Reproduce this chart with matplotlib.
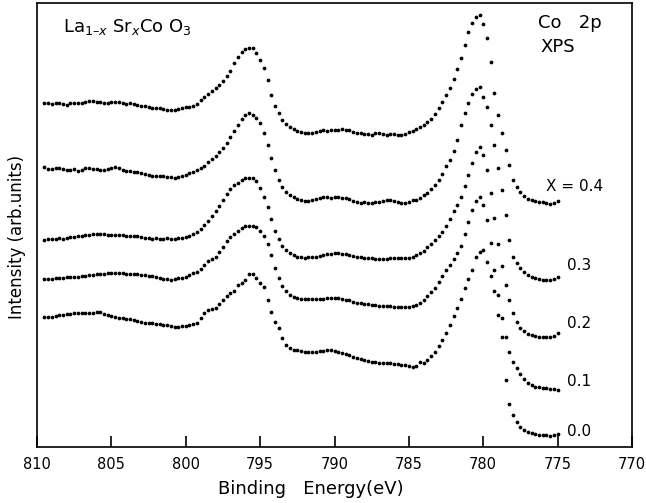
import matplotlib
matplotlib.use("Agg")
import matplotlib.pyplot as plt
import numpy as np

# binding energy grid (eV), high -> low, 0.25 eV step
energy = np.arange(809.5, 774.9, -0.25)

# Co 2p intensity (arb. units), same order as energy
x04 = [344, 344, 343, 344, 344, 343,
       342, 344, 344, 344, 344, 345, 346, 346,
       345, 345, 344, 344, 345, 345, 345, 344,
       343, 344, 343, 342, 341, 341, 340, 339,
       339, 339, 338, 337, 337, 337, 338, 339,
       340, 340, 341, 343, 347, 350, 353, 356,
       359, 362, 366, 371, 376, 384, 390, 395,
       398, 399, 399, 394, 387, 379, 367, 352,
       341, 334, 327, 323, 320, 318, 316, 315,
       314, 314, 314, 315, 316, 317, 316, 317,
       317, 317, 318, 317, 317, 315, 314, 314,
       313, 313, 312, 314, 314, 313, 312, 313,
       313, 312, 312, 313, 315, 316, 318, 320,
       322, 325, 328, 333, 339, 345, 352, 359,
       368, 378, 389, 402, 415, 424, 430, 432,
       423, 409, 385, 354, 332, 314, 297, 282,
       267, 260, 255, 251, 248, 247, 246, 245,
       245, 244, 243, 244, 246]

x03 = [280, 278, 278, 279, 279, 278,
       277, 277, 278, 276, 277, 279, 279, 278,
       278, 277, 277, 278, 279, 280, 279, 277,
       276, 276, 275, 275, 274, 273, 272, 271,
       271, 271, 271, 270, 270, 269, 270, 271,
       272, 274, 275, 277, 279, 281, 285, 288,
       291, 295, 299, 304, 310, 316, 322, 328,
       332, 334, 332, 329, 324, 314, 302, 289,
       277, 267, 260, 255, 252, 250, 248, 247,
       246, 246, 247, 248, 249, 250, 250, 249,
       250, 250, 249, 249, 248, 246, 245, 244,
       245, 244, 244, 245, 245, 246, 247, 247,
       246, 245, 244, 244, 245, 247, 247, 249,
       252, 254, 258, 262, 267, 273, 281, 287,
       296, 307, 322, 334, 344, 353, 358, 360,
       350, 340, 322, 302, 279, 257, 232, 207,
       190, 184, 179, 175, 172, 170, 169, 168,
       167, 167, 167, 168, 170]

x02 = [207, 208, 208, 208, 209, 208,
       209, 210, 210, 211, 211, 212, 212, 213,
       213, 213, 213, 212, 212, 212, 212, 212,
       211, 211, 211, 211, 210, 209, 209, 208,
       209, 208, 208, 209, 208, 208, 209, 209,
       210, 211, 213, 215, 218, 222, 226, 231,
       236, 241, 247, 253, 258, 262, 264, 267,
       269, 269, 269, 266, 259, 250, 240, 228,
       216, 208, 201, 197, 194, 192, 190, 190,
       189, 190, 190, 190, 191, 192, 193, 193,
       194, 194, 193, 193, 192, 191, 190, 190,
       189, 189, 189, 188, 188, 188, 188, 189,
       189, 189, 189, 189, 189, 190, 192, 194,
       196, 200, 203, 207, 211, 215, 221, 228,
       236, 242, 250, 261, 272, 284, 295, 300,
       292, 277, 254, 229, 203, 181, 162, 147,
       134, 125, 119, 116, 113, 112, 111, 110,
       110, 110, 110, 111, 114]

x01 = [168, 168, 168, 169, 169, 169,
       170, 170, 170, 170, 171, 171, 172, 172,
       173, 173, 173, 174, 174, 174, 174, 174,
       173, 173, 173, 173, 172, 172, 171, 171,
       170, 169, 168, 168, 167, 168, 169, 169,
       170, 172, 174, 175, 178, 182, 186, 188,
       190, 195, 200, 206, 210, 213, 216, 219,
       221, 221, 221, 220, 216, 211, 203, 192,
       179, 169, 161, 156, 152, 150, 149, 148,
       148, 148, 148, 148, 148, 148, 149, 149,
       149, 149, 148, 147, 147, 145, 144, 144,
       143, 143, 142, 142, 141, 141, 141, 141,
       140, 140, 140, 140, 140, 141, 142, 144,
       147, 151, 155, 159, 165, 171, 177, 182,
       188, 194, 201, 213, 225, 237, 246, 250,
       242, 227, 204, 177, 152, 129, 110, 95,
       85, 79, 73, 68, 64, 62, 60, 60,
       59, 59, 58, 58, 57]

x00 = [130, 130, 130, 131, 132, 132,
       133, 133, 134, 134, 134, 134, 134, 134,
       135, 135, 133, 132, 131, 130, 129, 129,
       128, 128, 127, 126, 125, 124, 124, 124,
       123, 123, 122, 122, 121, 120, 120, 121,
       121, 122, 123, 124, 129, 134, 137, 138,
       139, 143, 147, 151, 154, 156, 162, 164,
       167, 173, 173, 169, 164, 160, 147, 135,
       125, 119, 109, 102, 99, 97, 97, 96,
       95, 95, 95, 95, 96, 96, 97, 97,
       96, 95, 94, 93, 92, 90, 89, 88,
       87, 86, 85, 85, 84, 84, 84, 84,
       83, 83, 82, 82, 81, 80, 81, 85,
       84, 87, 91, 95, 101, 107, 114, 122,
       131, 139, 148, 159, 168, 177, 190, 195,
       197, 185, 171, 156, 132, 110, 67, 43,
       32, 25, 20, 17, 15, 14, 13, 12,
       12, 12, 11, 12, 13]

spectra = [x04, x03, x02, x01, x00]
comp_labels = ["X = 0.4", "0.3", "0.2", "0.1", "0.0"]

# label placement (energy of left edge, intensity)
label_x = [775.8, 774.4, 774.4, 774.4, 774.4]
label_y = [261, 182, 124, 66, 15]

fig = plt.figure(figsize=(6.46, 5.03), dpi=100)
ax = fig.add_axes([37 / 646, 56 / 503, 595 / 646, 444 / 503])

for s in spectra:
    ax.plot(energy, s, "o", ms=2.7, color="black", mec="none")

for lab, lx, ly in zip(comp_labels, label_x, label_y):
    ax.text(lx, ly, lab, fontsize=11, ha="left", va="center")

ax.set_xlim(810, 770)
ax.set_ylim(0, 444)
ax.set_xticks(range(810, 769, -5))
ax.set_yticks([])
ax.tick_params(axis="x", direction="in", length=8, width=1.2,
               labelsize=10.5, pad=7)
for sp in ax.spines.values():
    sp.set_linewidth(1.2)

ax.text(0.044, 0.946, "La$_{1\u2013x}$ Sr$_x$Co O$_3$", transform=ax.transAxes,
        fontsize=13, ha="left", va="center")
ax.text(0.842, 0.955, "Co   2p", transform=ax.transAxes,
        fontsize=13, ha="left", va="center")
ax.text(0.847, 0.901, "XPS", transform=ax.transAxes,
        fontsize=13, ha="left", va="center")

fig.text(17 / 646, 1 - 237 / 503, "Intensity (arb.units)", rotation=90,
         ha="center", va="center", fontsize=12)
fig.text(311 / 646, 1 - 489 / 503, "Binding   Energy(eV)",
         ha="center", va="center", fontsize=13)

fig.savefig("out.png", dpi=100)
